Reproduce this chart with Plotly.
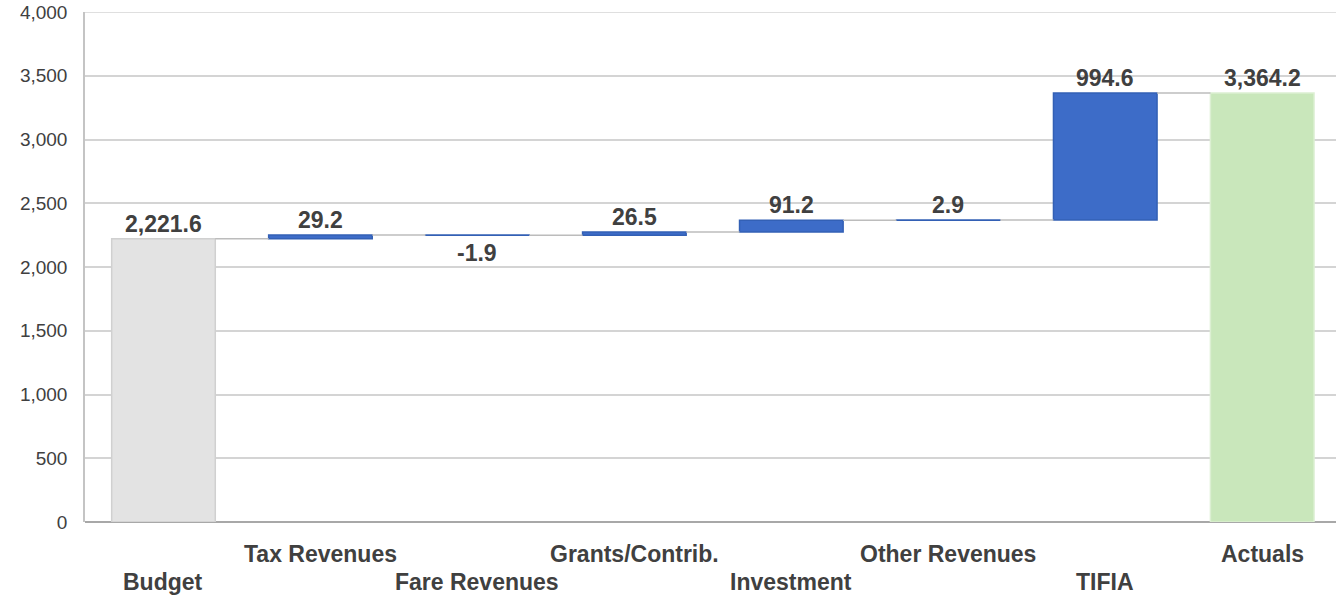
import plotly.graph_objects as go

categories = ["Budget", "Tax Revenues", "Fare Revenues", "Grants/Contrib.",
              "Investment", "Other Revenues", "TIFIA", "Actuals"]
budget = 2221.6
changes = [29.2, -1.9, 26.5, 91.2, 2.9, 994.6]
actuals = 3364.2
y_ticks = [0, 500, 1000, 1500, 2000, 2500, 3000, 3500, 4000]

BLUE = "#3d6cc8"
GRAY = "#e3e3e3"
GREEN = "#c9e7bb"
TEXT = "#404040"
FONT = "Liberation Sans, Arial, sans-serif"
BAR_W = 0.66

# bases and heights of every bar
bases = [0]
heights = [budget]
running = budget
levels = [budget]
for c in changes:
    bases.append(running)
    heights.append(c)
    running += c
    levels.append(running)
bases.append(0)
heights.append(actuals)
levels.append(actuals)

colors = [GRAY] + [BLUE] * len(changes) + [GREEN]
lines = ["#d0d0d0"] + ["#3360b5"] * len(changes) + ["#dcefd2"]
xs = list(range(len(categories)))

fig = go.Figure()
fig.add_trace(go.Bar(
    x=xs, y=heights, base=bases, width=BAR_W,
    marker=dict(color=colors, line=dict(color=lines, width=1.5)),
    hoverinfo="skip", showlegend=False,
))

# connectors between bars
cx, cy = [], []
for i in range(len(categories) - 1):
    cx += [i + BAR_W / 2, i + 1 - BAR_W / 2, None]
    cy += [levels[i], levels[i], None]
fig.add_trace(go.Scatter(x=cx, y=cy, mode="lines",
                         line=dict(color="#bcbcbc", width=1.5),
                         hoverinfo="skip", showlegend=False))

annotations = []
values = [budget] + changes + [actuals]
for i, v in enumerate(values):
    top = bases[i] + max(heights[i], 0)
    bottom = bases[i] + min(heights[i], 0)
    neg = v < 0
    annotations.append(dict(
        x=i, y=bottom if neg else top, xref="x", yref="y",
        text=f"{v:,.1f}", showarrow=False,
        yanchor="top" if neg else "bottom", yshift=-3 if neg else 0,
        font=dict(family=FONT, size=23, color=TEXT, weight="bold"),
    ))
for i, name in enumerate(categories):
    annotations.append(dict(
        x=i, y=0, xref="x", yref="paper", text=name, showarrow=False,
        yanchor="middle", yshift=-60 if i % 2 == 0 else -32,
        font=dict(family=FONT, size=23, color=TEXT, weight="bold"),
    ))

fig.update_layout(
    width=1336, height=596,
    margin=dict(l=85, r=0, t=12, b=74),
    plot_bgcolor="white", paper_bgcolor="white",
    annotations=annotations,
    xaxis=dict(range=[-0.5, 7.47], showticklabels=False, showgrid=False,
               zeroline=False, showline=False, fixedrange=True,
               automargin=False),
    yaxis=dict(range=[0, 4000], tickvals=y_ticks, tickformat=",",
               showgrid=True, gridcolor="#d4d4d4", gridwidth=1.5,
               zeroline=True, zerolinecolor="#a8a8a8", zerolinewidth=1.5,
               showline=True, linecolor="#c4c4c4", linewidth=1.5,
               ticks="", ticklabelstandoff=12, automargin=False,
               ticklabeloverflow="allow",
               tickfont=dict(family=FONT, size=19, color=TEXT)),
)
# top gridline at 4,000 (plotly drops the one on the plot edge)
fig.add_hline(y=y_ticks[-1], line=dict(color="#d4d4d4", width=1.5), layer="below")

# drop the default 8px body margin so the figure fills the window exactly
fig.write_html("out.html", config={"displayModeBar": False},
               post_script="document.body.style.margin='0';")
